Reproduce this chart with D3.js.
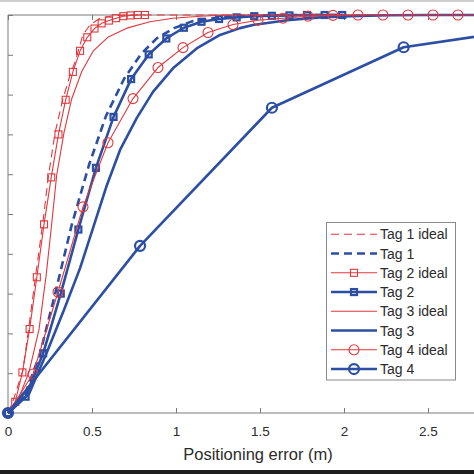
<!DOCTYPE html>
<html><head><meta charset="utf-8">
<script src="https://cdn.jsdelivr.net/npm/d3@7"></script>
<style>body{margin:0;background:#fff}svg{display:block}</style>
</head><body>
<script>
// ---- data ----
const tag1IdealX = [0,0.032,0.089,0.122,0.161,0.207,0.240,0.280,0.327,0.369,0.399,0.446,0.488,0.548,0.637,0.726,1.0,2.9];
const tag1IdealY = [0,0.033,0.108,0.209,0.334,0.477,0.593,0.704,0.789,0.849,0.882,0.950,0.975,0.992,0.999,1,1,1];

const tag1X = [0,0.095,0.190,0.280,0.379,0.482,0.583,0.690,0.792,0.887,0.988,1.095,1.202,1.321,1.5,1.679,2.0];
const tag1Y = [0,0.040,0.148,0.299,0.472,0.623,0.746,0.839,0.902,0.942,0.967,0.984,0.991,0.996,0.999,1,1];

const tag2IdealStep = 0.0429;
const tag2IdealY = [0,0.028,0.102,0.211,0.341,0.474,0.592,0.700,0.787,0.857,0.910,0.944,0.966,0.979,0.986,0.992,0.997,0.999,1,1];

const tag2Step = 0.1047;
const tag2Y = [0,0.041,0.150,0.300,0.461,0.616,0.744,0.839,0.901,0.941,0.968,0.983,0.990,0.994,0.997,0.998,0.999,1,1,1];

const tag3IdealX = [0,0.060,0.125,0.185,0.226,0.260,0.290,0.333,0.379,0.439,0.508,0.597,0.707,0.845,0.982,1.143,1.321,2.9];
const tag3IdealY = [0,0.033,0.103,0.211,0.342,0.475,0.598,0.704,0.789,0.858,0.910,0.945,0.967,0.983,0.992,0.997,1,1];

const tag3X = [0,0.125,0.232,0.333,0.429,0.518,0.589,0.667,0.766,0.863,0.982,1.123,1.262,1.381,1.458,1.661,1.857,2.036,2.274,2.512,2.9];
const tag3Y = [0,0.048,0.153,0.259,0.364,0.480,0.573,0.661,0.741,0.807,0.866,0.916,0.950,0.967,0.975,0.987,0.994,0.997,0.9995,1,1];

const tag4IdealStep = 0.1488;
const tag4IdealY = [0,0.098,0.304,0.518,0.679,0.790,0.868,0.918,0.956,0.976,0.987,0.992,0.997,0.999,1,1,1,1,1,1];

const tag4X = [0,0.786,1.571,2.355,3.140,3.925];
const tag4Y = [0,0.420,0.767,0.919,0.968,0.990];

const xTicks = [0,0.5,1,1.5,2,2.5];
const yTicks = [0,0.1,0.2,0.3,0.4,0.5,0.6,0.7,0.8,0.9,1];
const legendLabels = ["Tag 1 ideal","Tag 1","Tag 2 ideal","Tag 2","Tag 3 ideal","Tag 3","Tag 4 ideal","Tag 4"];

// ---- build ----
const zip = (xs, ys) => ys.map((y,i)=>[xs[i], y]);
const stepPts = (step, ys) => ys.map((y,i)=>[i*step, y]);

const RED = "#e2373c", BLUE = "#2c4ea3";
const series = [
  {name:legendLabels[0], pts:zip(tag1IdealX,tag1IdealY), color:RED, w:1.1, dash:"8,5", marker:null},
  {name:legendLabels[1], pts:zip(tag1X,tag1Y), color:BLUE, w:2.6, dash:"8,5", marker:null},
  {name:legendLabels[2], pts:stepPts(tag2IdealStep,tag2IdealY), color:RED, w:1.1, dash:null, marker:"square"},
  {name:legendLabels[3], pts:stepPts(tag2Step,tag2Y), color:BLUE, w:2.6, dash:null, marker:"square"},
  {name:legendLabels[4], pts:zip(tag3IdealX,tag3IdealY), color:RED, w:1.1, dash:null, marker:null},
  {name:legendLabels[5], pts:zip(tag3X,tag3Y), color:BLUE, w:2.6, dash:null, marker:null},
  {name:legendLabels[6], pts:stepPts(tag4IdealStep,tag4IdealY), color:RED, w:1.1, dash:null, marker:"circle"},
  {name:legendLabels[7], pts:zip(tag4X,tag4Y), color:BLUE, w:2.6, dash:null, marker:"circle"}
];

const W = 474, H = 474;
const svg = d3.select("body").append("svg").attr("width",W).attr("height",H)
  .style("font-family","'Liberation Sans', Arial, Helvetica, sans-serif");

svg.append("rect").attr("width",W).attr("height",H).attr("fill","#fff");

const x = d3.scaleLinear().domain([0,3]).range([8, 8+3*168]);
const y = d3.scaleLinear().domain([0,1]).range([413, 15]);

const axisColor = "#7a7a7a", textColor = "#2b2b2b";

// axes box lines
svg.append("line").attr("x1",8).attr("x2",W).attr("y1",15).attr("y2",15).attr("stroke",axisColor).attr("stroke-width",1);
svg.append("line").attr("x1",8).attr("x2",W).attr("y1",413).attr("y2",413).attr("stroke",axisColor).attr("stroke-width",1);
svg.append("line").attr("x1",8).attr("x2",8).attr("y1",15).attr("y2",413).attr("stroke",axisColor).attr("stroke-width",1);

// bottom axis (ticks inward)
const xb = svg.append("g").attr("transform","translate(0,413)")
  .call(d3.axisBottom(x).tickValues(xTicks).tickSize(-5).tickPadding(12).tickFormat(d3.format("")));
xb.select(".domain").remove();
xb.selectAll("line").attr("stroke",axisColor);
xb.selectAll("text").attr("fill",textColor).style("font-size","13.5px").attr("y",23).attr("dy","0");

// top ticks
const xt = svg.append("g").attr("transform","translate(0,15)")
  .call(d3.axisTop(x).tickValues(xTicks).tickSize(-5).tickFormat(""));
xt.select(".domain").remove();
xt.selectAll("line").attr("stroke",axisColor);

// left axis ticks (labels fall outside the cropped picture)
const yl = svg.append("g").attr("transform","translate(8,0)")
  .call(d3.axisLeft(y).tickValues(yTicks).tickSize(-5).tickFormat(""));
yl.select(".domain").remove();
yl.selectAll("line").attr("stroke",axisColor);

// x label
svg.append("text").attr("x",258).attr("y",459.5).attr("text-anchor","middle")
  .attr("fill",textColor).style("font-size","16.5px").text("Positioning error (m)");

// lines
const line = d3.line().x(d=>x(d[0])).y(d=>y(d[1]));
const plot = svg.append("g");

function drawMarker(g, m, cx, cy, s) {
  if (m === "square") {
    g.append("rect").attr("x",cx-s.sq/2).attr("y",cy-s.sq/2).attr("width",s.sq).attr("height",s.sq)
      .attr("fill","none").attr("stroke",s.color).attr("stroke-width",s.mw);
  } else if (m === "circle") {
    g.append("circle").attr("cx",cx).attr("cy",cy).attr("r",s.r)
      .attr("fill","none").attr("stroke",s.color).attr("stroke-width",s.mw);
  }
}

series.forEach(s=>{
  s.sq = s.w > 2 ? 6 : 7;
  s.r = 5;
  s.mw = s.w > 2 ? 2.2 : 1.1;
  const g = plot.append("g");
  const p = g.append("path").attr("d",line(s.pts)).attr("fill","none")
    .attr("stroke",s.color).attr("stroke-width",s.w).attr("stroke-linejoin","round");
  if (s.dash) p.attr("stroke-dasharray",s.dash);
  if (s.marker) s.pts.forEach(d=>drawMarker(g, s.marker, x(d[0]), y(d[1]), s));
});

// legend
const lg = svg.append("g");
lg.append("rect").attr("x",326.5).attr("y",222.5).attr("width",129).attr("height",157.5)
  .attr("fill","#fff").attr("stroke","#8a8a8a").attr("stroke-width",1);
series.forEach((s,i)=>{
  const cy = 234.3 + i*19.25;
  const row = lg.append("g");
  const l = row.append("line").attr("x1",331).attr("x2",377).attr("y1",cy).attr("y2",cy)
    .attr("stroke",s.color).attr("stroke-width",s.w);
  if (s.dash) l.attr("stroke-dasharray",s.dash);
  if (s.marker) drawMarker(row, s.marker, 354, cy, s);
  row.append("text").attr("x",380).attr("y",cy+5).attr("fill",textColor)
    .style("font-size","14px").text(s.name);
});

// photo edges
svg.append("rect").attr("x",0).attr("y",0).attr("width",W).attr("height",2).attr("fill","#cfcfcf");
svg.append("rect").attr("x",0).attr("y",470).attr("width",W).attr("height",4).attr("fill","#1e1e1e");
</script>
</body></html>
